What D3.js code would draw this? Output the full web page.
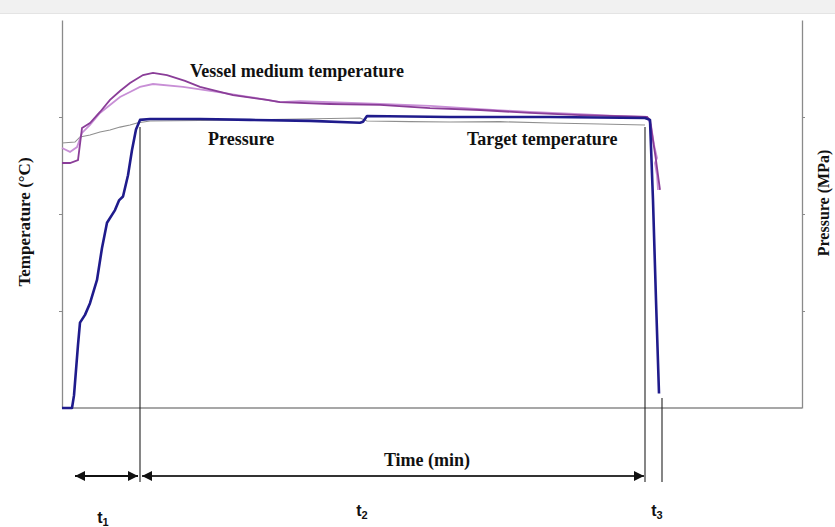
<!DOCTYPE html>
<html>
<head>
<meta charset="utf-8">
<script src="https://cdn.jsdelivr.net/npm/d3@7"></script>
<style>
  body { margin: 0; background: #fff; }
  svg { display: block; }
  .label { font-family: "Liberation Serif", "Times New Roman", serif; font-weight: bold; font-size: 18px; fill: #111; }
  .tlabel { font-family: "Liberation Sans", Arial, sans-serif; font-weight: bold; font-size: 16px; fill: #111; }
  .axis-line { stroke: #8a8a8a; stroke-width: 1.3; }
  .mark { stroke: #222; stroke-width: 1.1; }
</style>
</head>
<body>
<svg id="svg" width="835" height="527"></svg>
<script>
// time in min, temperature in degC, pressure in MPa
const pressure = [
  [0, 0], [2, 0], [2.4, 1.3], [3.2, 6.5], [3.6, 8.8], [4.6, 9.6], [5.6, 10.8], [7, 13.2],
  [8, 16.5], [9, 19.1], [10.6, 20.4], [11.4, 21.4], [12.2, 21.8], [13.2, 24], [14, 26.6],
  [14.8, 28.7], [15.6, 29.7], [17.6, 29.8], [27.6, 29.8], [37.6, 29.7], [49.6, 29.6],
  [59.6, 29.4], [60.2, 29.5], [61, 30.1], [77.6, 30.0], [97.6, 30.0], [116.6, 29.9],
  [117.6, 29.7], [118.2, 21.4], [118.8, 11.1], [119.4, 1.5]
];

const targetTemp = [
  [0, 136.6], [2.6, 137.1], [3.6, 139.7], [5.6, 140.7], [7.6, 142.3], [9.6, 143.3],
  [11.6, 144.8], [13.6, 145.9], [15, 146.9], [17.6, 147.9], [27.6, 148.2], [37.6, 148.5],
  [47.6, 149.0], [59.6, 149.5], [61, 147.9], [69.6, 147.6], [77.6, 147.4], [87.6, 147.6],
  [97.6, 146.9], [107.6, 146.4], [116.6, 145.9]
];

const vesselTempA = [
  [0, 126.3], [1.6, 126.3], [3.2, 127.8], [4, 144.3], [5.6, 146.9], [7.6, 152.6],
  [9.6, 158.8], [11.6, 163.4], [13.6, 167.5], [16.2, 171.6], [18.2, 172.7], [21, 171.6],
  [24.6, 168.6], [27.6, 165.5], [34.2, 161.3], [41, 158.8], [43.6, 157.7], [53.6, 156.7],
  [63.6, 156.2], [73.6, 154.6], [83.6, 153.6], [93.6, 152.1], [103.6, 151.0], [111.6, 150.5],
  [117, 150.0], [117.6, 148.5], [118.2, 138.1], [118.8, 127.8], [119.2, 120.1], [119.6, 112.4]
];

const vesselTempB = [
  [0, 134.0], [1.6, 132.0], [3, 134.5], [4, 141.8], [5.6, 145.9], [7.6, 152.1],
  [9.6, 156.2], [11.6, 160.3], [13.6, 162.9], [15.6, 165.5], [18.2, 167.0], [24.2, 165.5],
  [31, 162.9], [37.6, 160.3], [43.6, 157.7], [47.6, 158.2], [53.6, 157.7], [63.6, 156.7],
  [73.6, 155.7], [83.6, 154.1], [93.6, 152.6], [103.6, 151.5], [111.6, 150.5], [117, 150.0],
  [117.8, 145.9], [118.4, 135.6], [119, 128.9], [118.6, 126.3], [119, 120.1], [119.2, 112.4]
];

const tempTicks = [50, 100, 150];
const pressTicks = [10, 20, 30];

// phase boundaries (min): end of t1, end of t2, end of t3
const phaseMarks = [15.6, 116.6, 120];
const phaseNames = ["1", "2", "3"];

const svg = d3.select("svg#svg");

const x = d3.scaleLinear().domain([0, 148]).range([62, 802]);
const yTemp = d3.scaleLinear().domain([0, 200]).range([408, 20]);
const yPres = d3.scaleLinear().domain([0, 40]).range([408, 20]);

// grey strip at the top of the screenshot
svg.append("rect").attr("x", 0).attr("y", 0).attr("width", 835).attr("height", 13).attr("fill", "#f1f1f1");
svg.append("line").attr("x1", 0).attr("x2", 835).attr("y1", 13.5).attr("y2", 13.5)
  .attr("stroke", "#e4e4e4").attr("stroke-width", 1);

// axes
let axisLeft = d3.axisLeft(yTemp).tickValues(tempTicks).tickSize(3).tickSizeOuter(0).tickFormat("");
let axisRight = d3.axisRight(yPres).tickValues(pressTicks).tickSize(3).tickSizeOuter(0).tickFormat("");

let gl = svg.append("g").attr("transform", "translate(62,0)").call(axisLeft);
let gr = svg.append("g").attr("transform", "translate(802,0)").call(axisRight);
[gl, gr].forEach(function(g) {
  g.select(".domain").attr("stroke", "#8a8a8a").attr("stroke-width", 1.3);
  g.selectAll(".tick line").attr("stroke", "#8a8a8a");
});
svg.append("line").attr("class", "axis-line")
  .attr("x1", x(0)).attr("x2", x(148)).attr("y1", yTemp(0)).attr("y2", yTemp(0));

// axis titles
svg.append("text").attr("class", "label")
  .attr("transform", "translate(30,222) rotate(-90)")
  .attr("text-anchor", "middle").style("font-size", "17px")
  .text("Temperature (°C)");
svg.append("text").attr("class", "label")
  .attr("transform", "translate(829,203) rotate(-90)")
  .attr("text-anchor", "middle").style("font-size", "16px")
  .text("Pressure (MPa)");

// series
const lineT = d3.line().x(d => x(d[0])).y(d => yTemp(d[1]));
const lineP = d3.line().x(d => x(d[0])).y(d => yPres(d[1]));

svg.append("path").datum(targetTemp).attr("d", lineT)
  .attr("fill", "none").attr("stroke", "#8f8f8f").attr("stroke-width", 1.1);
svg.append("path").datum(vesselTempB).attr("d", lineT)
  .attr("fill", "none").attr("stroke", "#c88fd6").attr("stroke-width", 1.8);
svg.append("path").datum(vesselTempA).attr("d", lineT)
  .attr("fill", "none").attr("stroke", "#8a3d98").attr("stroke-width", 1.8);
svg.append("path").datum(pressure).attr("d", lineP)
  .attr("fill", "none").attr("stroke", "#1f1b8c").attr("stroke-width", 2.6)
  .attr("stroke-linejoin", "round");

// series labels
svg.append("text").attr("class", "label").attr("x", 190).attr("y", 77).text("Vessel medium temperature");
svg.append("text").attr("class", "label").attr("x", 208).attr("y", 145).text("Pressure");
svg.append("text").attr("class", "label").attr("x", 467).attr("y", 145).text("Target temperature");
svg.append("text").attr("class", "label").attr("x", 427).attr("y", 466)
  .attr("text-anchor", "middle").text("Time (min)");

// phase marker lines
svg.append("line").attr("class", "mark")
  .attr("x1", x(phaseMarks[0])).attr("x2", x(phaseMarks[0])).attr("y1", 127).attr("y2", 482);
svg.append("line").attr("class", "mark")
  .attr("x1", x(phaseMarks[1])).attr("x2", x(phaseMarks[1])).attr("y1", 127).attr("y2", 482);
svg.append("line").attr("class", "mark")
  .attr("x1", x(phaseMarks[2])).attr("x2", x(phaseMarks[2])).attr("y1", 398).attr("y2", 482);

// arrows
const defs = svg.append("defs");
defs.append("marker").attr("id", "head")
  .attr("viewBox", "0 0 10 10").attr("refX", 10).attr("refY", 5)
  .attr("markerWidth", 10).attr("markerHeight", 10).attr("markerUnits", "userSpaceOnUse")
  .attr("orient", "auto-start-reverse")
  .append("path").attr("d", "M0,0 L10,5 L0,10 Z").attr("fill", "#111");

const arrowY = 476;
svg.append("line").attr("x1", 75).attr("x2", x(phaseMarks[0]) - 2)
  .attr("y1", arrowY).attr("y2", arrowY)
  .attr("stroke", "#111").attr("stroke-width", 2)
  .attr("marker-start", "url(#head)").attr("marker-end", "url(#head)");
svg.append("line").attr("x1", x(phaseMarks[0]) + 2).attr("x2", x(phaseMarks[1]) - 1)
  .attr("y1", arrowY).attr("y2", arrowY)
  .attr("stroke", "#333").attr("stroke-width", 1.8)
  .attr("marker-start", "url(#head)").attr("marker-end", "url(#head)");

// t labels
const tPos = [[103, 523], [362, 516], [657, 516]];
tPos.forEach(function(p, i) {
  let t = svg.append("text").attr("class", "tlabel").attr("x", p[0]).attr("y", p[1])
    .attr("text-anchor", "middle");
  t.append("tspan").text("t");
  t.append("tspan").attr("dy", 3).style("font-size", "11px").text(phaseNames[i]);
});
</script>
</body>
</html>
